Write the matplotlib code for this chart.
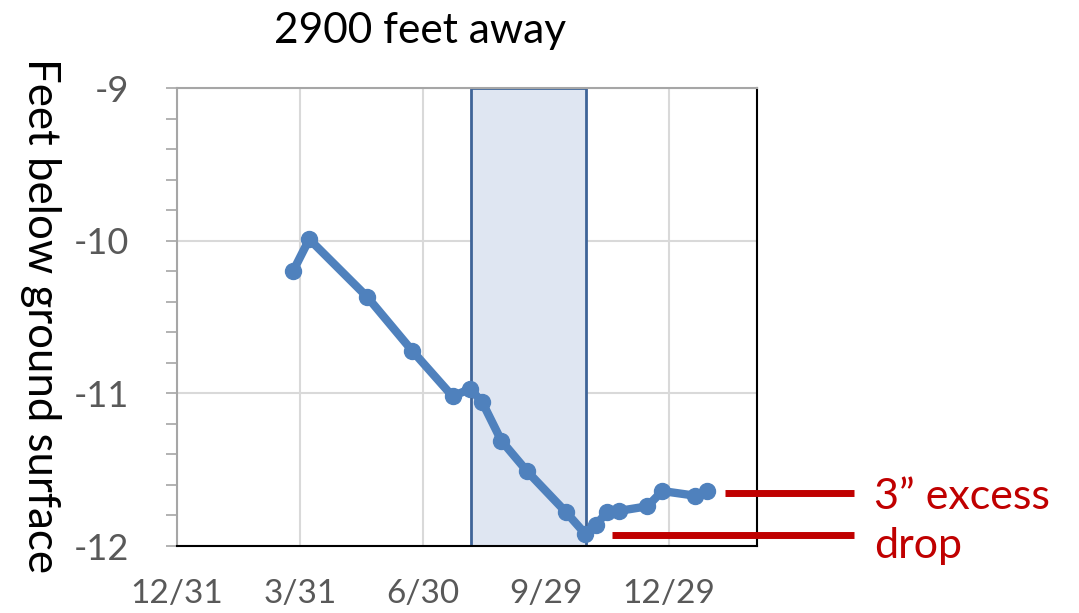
import matplotlib
matplotlib.use("Agg")
import matplotlib.pyplot as plt
from matplotlib.ticker import MultipleLocator

# days after 12/31, depth in feet (negative = below surface)
days = [86, 98, 141, 174, 204, 217, 226, 240, 259, 288, 302, 310, 318, 327, 348, 359, 383, 392]
depth = [-10.20, -9.99, -10.37, -10.72, -11.02, -10.97, -11.06, -11.31, -11.51,
         -11.78, -11.92, -11.86, -11.78, -11.77, -11.74, -11.64, -11.67, -11.64]

tick_days = [0, 91, 182, 273, 364]
tick_labels = ["12/31", "3/31", "6/30", "9/29", "12/29"]

shade_start, shade_end = 217.5, 302.8
recovered_level, lowest_level = -11.655, -11.925

plt.rcParams['font.family'] = ['Lato', 'DejaVu Sans']

fig = plt.figure(figsize=(10.79, 6.13), dpi=100)
ax = fig.add_axes([176.7 / 1079, 1 - 546 / 613, (757 - 176.7) / 1079, (546 - 88) / 613])

ax.axvspan(shade_start, shade_end, facecolor="#dfe6f2", edgecolor="#3f6498",
           linewidth=2, zorder=1)
ax.plot(days, depth, color="#4f81bd", linewidth=6, marker="o", markersize=11.5,
        solid_capstyle="round", zorder=3)

ax.set_xlim(0, 429)
ax.set_ylim(-12, -9)
ax.set_xticks(tick_days)
ax.set_xticklabels(tick_labels)
ax.yaxis.set_minor_locator(MultipleLocator(0.2))
ax.set_yticks([-9, -10, -11, -12])
ax.set_yticklabels(["-9", "-10", "-11", "-12"])

ax.grid(True, which="major", color="#d9d9d9", linewidth=1.5, zorder=0)
ax.set_axisbelow(True)
ax.tick_params(axis="x", length=0, pad=24, labelsize=24, labelcolor="#595959")
ax.tick_params(axis="y", which="both", length=8, width=1.2, color="#a6a6a6",
               pad=26, labelsize=26, labelcolor="#595959")

for side in ("left", "top"):
    ax.spines[side].set_color("#a6a6a6")
    ax.spines[side].set_linewidth(1.5)
for side in ("bottom", "right"):
    ax.spines[side].set_color("black")
    ax.spines[side].set_linewidth(1.5)

# red annotation bars
ax.plot([405, 500.5], [recovered_level, recovered_level], color="#c00000",
        linewidth=5, solid_capstyle="butt", clip_on=False, zorder=4)
ax.plot([322, 500.5], [lowest_level, lowest_level], color="#c00000",
        linewidth=5, solid_capstyle="butt", clip_on=False, zorder=4)

fig.text(874 / 1079, 1 - 509 / 613, "3\u201d excess", color="#c00000",
         fontsize=31, va="baseline", ha="left")
fig.text(874 / 1079, 1 - 558 / 613, "drop", color="#c00000",
         fontsize=31, va="baseline", ha="left")

fig.text(420 / 1079, 1 - 43 / 613, "2900 feet away", fontsize=30.5,
         ha="center", va="baseline", color="black")
fig.text(40 / 1079, 1 - 315 / 613, "Feet below ground surface", fontsize=31.5,
         rotation=-90, ha="center", va="center", color="black")

fig.savefig("out.png", dpi=100)
